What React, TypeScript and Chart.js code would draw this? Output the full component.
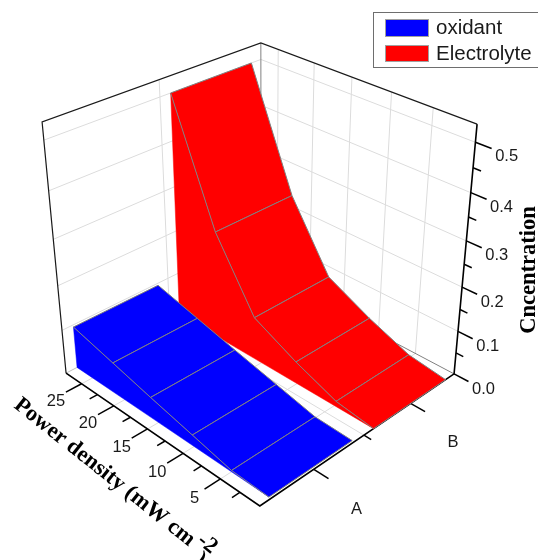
import React, { useEffect, useRef } from "react";
import { Chart, registerables } from "chart.js";

Chart.register(...registerables);

// ---- data ----
const categories = ["A", "B"];
const seriesNames = ["oxidant", "Electrolyte"];
const powerDensity = [27.5, 21.5, 16, 10.2, 4.8, 0];
const oxidant = [0.095, 0.07, 0.047, 0.024, 0.003, 0];
const electrolyte = [0.5, 0.245, 0.097, 0.049, 0.012, 0];
const oxidantPower = [27.5, 21.5, 16, 10.2, 5, 0.25];
const powerTicks = [5, 10, 15, 20, 25];
const powerMinorTicks = [2.5, 7.5, 12.5, 17.5, 22.5];
const concTicks = [0, 0.1, 0.2, 0.3, 0.4, 0.5];
const concMinorTicks = [0.05, 0.15, 0.25, 0.35, 0.45];

// ---- axis ranges ----
const POWER_MAX = 27.5;
const CONC_MAX = 0.535;
const CAT_MIN = 0.5;
const CAT_MAX = 2.5;
const RIBBON = 0.4;

// ---- camera calibration: cube corner -> page pixel ----
const anchors: number[][] = [
  [0, 0, 0, 260, 506],
  [1, 0, 0, 454, 374],
  [0, 1, 0, 66, 373],
  [0, 1, 1, 42, 122],
  [1, 0, 1, 477, 124],
  [1, 1, 1, 261, 43],
];

function solveCamera(): number[] {
  const rows: number[][] = [];
  for (const [u, v, w, px, py] of anchors) {
    rows.push([u, v, w, 1, 0, 0, 0, 0, -px * u, -px * v, -px * w, px]);
    rows.push([0, 0, 0, 0, u, v, w, 1, -py * u, -py * v, -py * w, py]);
  }
  const n = 11;
  const A: number[][] = [];
  for (let i = 0; i < n; i++) {
    const r: number[] = [];
    for (let j = 0; j <= n; j++) {
      let s = 0;
      for (const row of rows) s += row[i] * row[j];
      r.push(s);
    }
    A.push(r);
  }
  for (let c = 0; c < n; c++) {
    let p = c;
    for (let r = c + 1; r < n; r++) if (Math.abs(A[r][c]) > Math.abs(A[p][c])) p = r;
    [A[c], A[p]] = [A[p], A[c]];
    for (let r = 0; r < n; r++) {
      if (r === c) continue;
      const f = A[r][c] / A[c][c];
      for (let j = c; j <= n; j++) A[r][j] -= f * A[c][j];
    }
  }
  return A.map((r, i) => r[n] / r[i]);
}
const cam = solveCamera();

// value space (category position, power density, concentration) -> page x/y
function project(cat: number, power: number, conc: number) {
  const u = (cat - CAT_MIN) / (CAT_MAX - CAT_MIN);
  const v = power / POWER_MAX;
  const w = conc / CONC_MAX;
  const d = cam[8] * u + cam[9] * v + cam[10] * w + 1;
  return {
    x: (cam[0] * u + cam[1] * v + cam[2] * w + cam[3]) / d,
    y: (cam[4] * u + cam[5] * v + cam[6] * w + cam[7]) / d,
  };
}

type P = { x: number; y: number };
const datasets: any[] = [];
function add(data: P[], color: string, width: number, fill?: string) {
  const i = datasets.length;
  datasets.push({
    data,
    showLine: true,
    tension: 0,
    pointRadius: 0,
    borderColor: color,
    borderWidth: width,
    backgroundColor: fill ?? "transparent",
    fill: fill ? "shape" : false,
    order: -i,
    clip: false,
  });
}
const GRID = "#dcdcdc";
const EDGE = "#808080";
const INK = "#1a1a1a";

// walls and floor grid
for (const c of concTicks.slice(1)) {
  add([project(CAT_MIN, POWER_MAX, c), project(CAT_MAX, POWER_MAX, c)], GRID, 1);
  add([project(CAT_MAX, POWER_MAX, c), project(CAT_MAX, 0, c)], GRID, 1);
}
for (const t of powerTicks) {
  add([project(CAT_MAX, t, 0), project(CAT_MAX, t, CONC_MAX)], GRID, 1);
  add([project(CAT_MIN, t, 0), project(CAT_MAX, t, 0)], GRID, 1);
}
add([project(1.5, POWER_MAX, 0), project(1.5, POWER_MAX, CONC_MAX)], GRID, 1);
add([project(1.5, 0, 0), project(1.5, POWER_MAX, 0)], GRID, 1);

// box edges
add([project(CAT_MIN, POWER_MAX, 0), project(CAT_MAX, POWER_MAX, 0)], "#c0c0c0", 1);
add([project(CAT_MAX, POWER_MAX, 0), project(CAT_MAX, 0, 0)], EDGE, 1);
add([project(CAT_MAX, POWER_MAX, 0), project(CAT_MAX, POWER_MAX, CONC_MAX)], EDGE, 1);
add(
  [project(CAT_MIN, POWER_MAX, 0), project(CAT_MIN, POWER_MAX, CONC_MAX), project(CAT_MAX, POWER_MAX, CONC_MAX), project(CAT_MAX, 0, CONC_MAX)],
  INK,
  1.2,
);

// axes with ticks
add([project(CAT_MIN, POWER_MAX, 0), project(CAT_MIN, 0, 0), project(CAT_MAX, 0, 0), project(CAT_MAX, 0, CONC_MAX)], "#000", 1.6);
const MAJOR_POWER = 0.14;
for (const t of powerTicks) add([project(CAT_MIN, t, 0), project(CAT_MIN - MAJOR_POWER, t, 0)], "#000", 1.5);
for (const t of powerMinorTicks) add([project(CAT_MIN, t, 0), project(CAT_MIN - MAJOR_POWER / 2, t, 0)], "#000", 1.5);
const MAJOR_OUT = 1.8;
for (const c of concTicks) add([project(CAT_MAX, 0, c), project(CAT_MAX, -MAJOR_OUT, c)], "#000", 1.5);
for (const c of concMinorTicks) add([project(CAT_MAX, 0, c), project(CAT_MAX, -MAJOR_OUT / 2, c)], "#000", 1.5);
categories.forEach((_, i) => add([project(i + 1, 0, 0), project(i + 1, -MAJOR_OUT, 0)], "#000", 1.5));
add([project(1.5, 0, 0), project(1.5, -MAJOR_OUT / 2, 0)], "#000", 1.5);

// ribbons, rear one first
function ribbon(cat: number, powers: number[], values: number[], color: string) {
  const near = cat - RIBBON;
  const far = cat + RIBBON;
  const side = [
    ...powers.map((p, i) => project(near, p, values[i])),
    ...[...powers].reverse().map((p) => project(near, p, 0)),
  ];
  add([...side, side[0]], color, 0.5, color);
  for (let i = 0; i < values.length - 1; i++) {
    const q = [
      project(near, powers[i], values[i]),
      project(far, powers[i], values[i]),
      project(far, powers[i + 1], values[i + 1]),
      project(near, powers[i + 1], values[i + 1]),
    ];
    add([...q, q[0]], EDGE, 1, color);
  }
}
ribbon(2, powerDensity, electrolyte, "#ff0000");
ribbon(1, oxidantPower, oxidant, "#0000ff");

const SANS = '"Liberation Sans", Arial, sans-serif';
const SERIF = '"Liberation Serif", "Times New Roman", serif';

const textPlugin = {
  id: "labels3d",
  afterDraw(chart: any) {
    const ctx = chart.ctx as CanvasRenderingContext2D;
    const sx = chart.scales.x;
    const sy = chart.scales.y;
    const at = (p: P) => ({ x: sx.getPixelForValue(p.x), y: sy.getPixelForValue(p.y) });
    ctx.save();
    ctx.fillStyle = "#1a1a1a";
    ctx.textAlign = "center";
    ctx.textBaseline = "middle";
    ctx.font = `16.5px ${SANS}`;
    for (const t of powerTicks) {
      const a = at(project(CAT_MIN - MAJOR_POWER, t, 0));
      ctx.fillText(String(t), a.x - 10, a.y + 9);
    }
    for (const c of concTicks) {
      const a = at(project(CAT_MAX, -MAJOR_OUT, c));
      ctx.fillText(c.toFixed(1), a.x + 15, a.y + 8);
    }
    categories.forEach((name, i) => {
      const a = at(project(i + 1, -MAJOR_OUT, 0));
      ctx.fillText(name, a.x + 28, a.y + 31);
    });

    // axis titles
    ctx.fillStyle = "#000";
    ctx.font = `bold 22.5px ${SERIF}`;
    ctx.save();
    ctx.translate(529, 270);
    ctx.rotate(-Math.PI / 2);
    ctx.fillText("Cncentration", 0, 0);
    ctx.restore();

    ctx.save();
    ctx.translate(13, 407);
    ctx.rotate((38.5 * Math.PI) / 180);
    ctx.textAlign = "left";
    ctx.textBaseline = "alphabetic";
    const main = "Power density (mW cm ";
    ctx.fillText(main, 0, 0);
    const w1 = ctx.measureText(main).width;
    ctx.fillText("-2", w1 - 2, -8);
    const w2 = ctx.measureText("-2").width;
    ctx.fillText(")", w1 + w2 - 11, 8.6);
    ctx.restore();

    // legend
    ctx.strokeStyle = "#6e6e6e";
    ctx.lineWidth = 1;
    ctx.strokeRect(373.5, 12.5, 170, 55);
    const colors = ["#0000ff", "#ff0000"];
    const rowY = [19, 45];
    const rowH = [18, 17];
    seriesNames.forEach((name, i) => {
      ctx.fillStyle = colors[i];
      ctx.fillRect(385, rowY[i], 44, rowH[i]);
      ctx.strokeStyle = "#a0a0a0";
      ctx.strokeRect(385.5, rowY[i] + 0.5, 43, rowH[i] - 1);
      ctx.fillStyle = "#1a1a1a";
      ctx.font = `20.5px ${SANS}`;
      ctx.textAlign = "left";
      ctx.textBaseline = "middle";
      ctx.fillText(name, 436, rowY[i] + 9);
    });
    ctx.restore();
  },
};

export default function App() {
  const ref = useRef<HTMLCanvasElement>(null);
  useEffect(() => {
    if (!ref.current) return;
    const chart = new Chart(ref.current, {
      type: "scatter",
      data: { datasets },
      plugins: [textPlugin as any],
      options: {
        animation: false,
        responsive: false,
        maintainAspectRatio: false,
        layout: { padding: 0 },
        plugins: { legend: { display: false }, tooltip: { enabled: false } },
        scales: {
          x: { type: "linear", min: 0, max: 538, display: false },
          y: { type: "linear", min: 0, max: 560, reverse: true, display: false },
        },
      },
    });
    return () => chart.destroy();
  }, []);
  return (
    <div style={{ position: "fixed", left: 0, top: 0, width: 538, height: 560, background: "#fff" }}>
      <canvas ref={ref} width={538} height={560} style={{ display: "block" }} />
    </div>
  );
}
